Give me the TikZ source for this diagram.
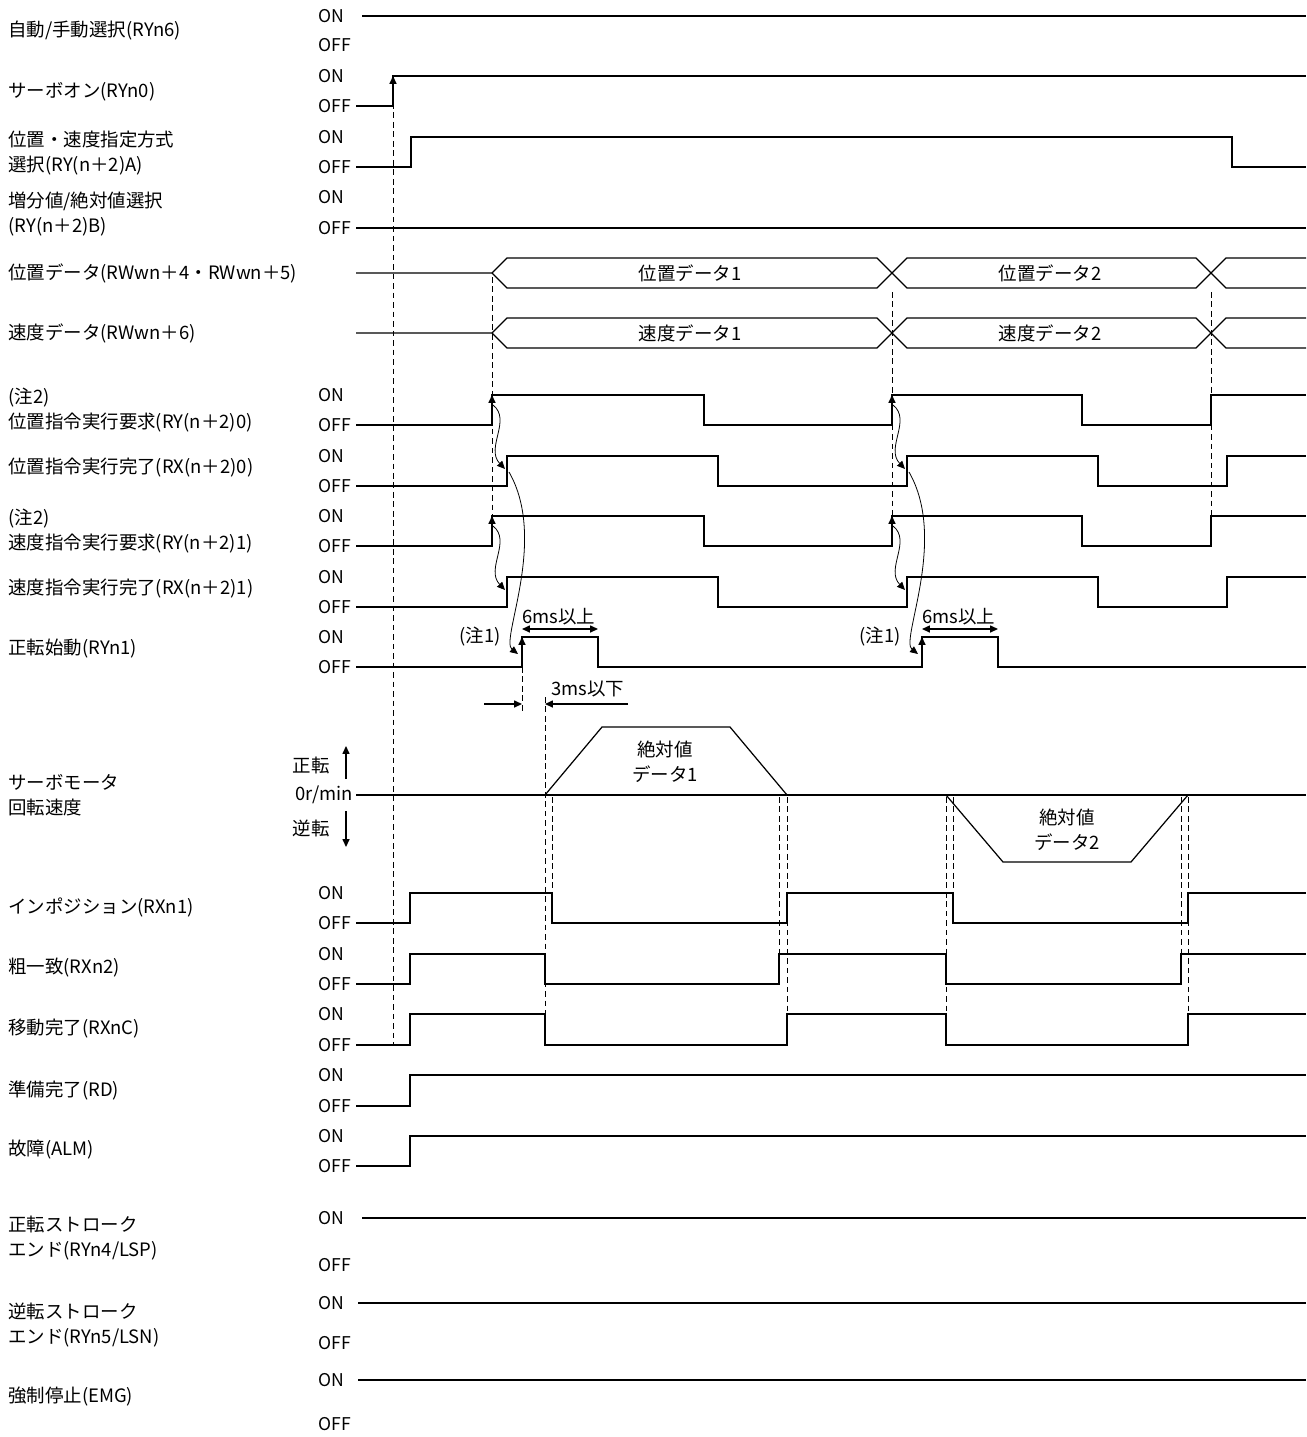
\documentclass[tikz,border=0pt]{standalone}
\usepackage{fontspec}
\setmainfont{Noto Sans CJK JP}
\usepackage{tikz}
\usetikzlibrary{arrows.meta}

\begin{document}
\begin{tikzpicture}[x=0.02cm, y=-0.02cm,
  sig/.style={line width=0.8pt},
  fine/.style={line width=0.7pt},
  curve/.style={line width=0.45pt},
  guide/.style={line width=0.5pt, dash pattern=on 3.2pt off 2.2pt},
  txt/.style={inner sep=0pt, font=\fontsize{10.5}{14}\selectfont},
  lbl/.style={txt, anchor=west, align=left},
  lvl/.style={inner sep=0pt, anchor=west, font=\fontsize{10}{12}\selectfont},
  >={Triangle[length=4.5pt,width=4pt]}]
\useasboundingbox (0,0) rectangle (1306,1437);

% signal names
\node[lbl] (sel) at (8,31) {自動/手動選択(RYn6)};
\node[lbl] (son) at (8,92) {サーボオン(RYn0)};
\node[lbl] (mode) at (8,153) {位置・速度指定方式\\選択(RY(n＋2)A)};
\node[lbl] (incabs) at (8,214) {増分値/絶対値選択\\(RY(n＋2)B)};
\node[lbl] (posdat) at (8,273) {位置データ(RWwn＋4・RWwn＋5)};
\node[lbl] (spddat) at (8,333) {速度データ(RWwn＋6)};
\node[lbl] (posreq) at (8,410) {(注2)\\位置指令実行要求(RY(n＋2)0)};
\node[lbl] (posfin) at (8,468) {位置指令実行完了(RX(n＋2)0)};
\node[lbl] (spdreq) at (8,531) {(注2)\\速度指令実行要求(RY(n＋2)1)};
\node[lbl] (spdfin) at (8,589) {速度指令実行完了(RX(n＋2)1)};
\node[lbl] (st1) at (8,649) {正転始動(RYn1)};
\node[lbl] (motor) at (8,795) {サーボモータ\\回転速度};
\node[lbl] (inp) at (8,907) {インポジション(RXn1)};
\node[lbl] (cpo) at (8,968) {粗一致(RXn2)};
\node[lbl] (mend) at (8,1029) {移動完了(RXnC)};
\node[lbl] (rd) at (8,1090) {準備完了(RD)};
\node[lbl] (alm) at (8,1150) {故障(ALM)};
\node[lbl] (lsp) at (8,1238) {正転ストローク\\エンド(RYn4/LSP)};
\node[lbl] (lsn) at (8,1325) {逆転ストローク\\エンド(RYn5/LSN)};
\node[lbl] (emg) at (8,1397) {強制停止(EMG)};

% ON / OFF levels
\foreach \on/\off [count=\i] in {16/45, 76/106, 137/167, 197/228, 395/425, 456/486,
    516/546, 577/607, 637/667, 893/923, 954/984, 1014/1045, 1075/1106, 1136/1166,
    1218/1265, 1303/1343, 1380/1424} {
  \node[lvl] (on\i) at (318,\on) {ON};
  \node[lvl] (off\i) at (318,\off) {OFF};
}

% guide lines
\foreach \x/\ya/\yb in {393/84/1045, 492/277/516, 892/292/516, 1211/292/516,
    522/667/712, 545/697/1014, 552/797/893, 779/797/954, 787/797/1014,
    946/797/1014, 953/797/893, 1181/797/954, 1188/797/1014}
  \draw[guide] (\x,\ya) -- (\x,\yb);

% static inputs
\draw[sig] (362,16) -- (1306,16);
\draw[sig] (356,106) -- (393,106) -- (393,76) -- (1306,76);
\draw[sig] (356,167) -- (411,167) -- (411,137) -- (1232,137) -- (1232,167) -- (1306,167);
\draw[sig] (356,228) -- (1306,228);

% data
\foreach \yc/\nm/\tg in {273/位置/pos, 333/速度/spd} {
  \draw[fine] (356,\yc) -- (492,\yc) -- (507,\yc-15) -- (877,\yc-15) -- (907,\yc+15)
    -- (1196,\yc+15) -- (1226,\yc-15) -- (1306,\yc-15);
  \draw[fine] (492,\yc) -- (507,\yc+15) -- (877,\yc+15) -- (907,\yc-15)
    -- (1196,\yc-15) -- (1226,\yc+15) -- (1306,\yc+15);
  \node[txt] (\tg1) at (690,\yc) {\nm データ1};
  \node[txt] (\tg2) at (1050,\yc) {\nm データ2};
}

% command handshake
\foreach \yon/\yoff in {395/425, 516/546}
  \draw[sig] (356,\yoff) -- (492,\yoff) -- (492,\yon) -- (704,\yon) -- (704,\yoff)
    -- (892,\yoff) -- (892,\yon) -- (1082,\yon) -- (1082,\yoff) -- (1211,\yoff)
    -- (1211,\yon) -- (1306,\yon);
\foreach \yon/\yoff in {456/486, 577/607}
  \draw[sig] (356,\yoff) -- (507,\yoff) -- (507,\yon) -- (718,\yon) -- (718,\yoff)
    -- (907,\yoff) -- (907,\yon) -- (1098,\yon) -- (1098,\yoff) -- (1227,\yoff)
    -- (1227,\yon) -- (1306,\yon);
\draw[sig] (356,667) -- (522,667) -- (522,637) -- (598,637) -- (598,667) -- (922,667)
  -- (922,637) -- (998,637) -- (998,667) -- (1306,667);

\foreach \x/\y in {393/76, 492/395, 492/516, 522/637, 892/395, 892/516, 922/637}
  \draw[sig, ->] (\x,\y+12) -- (\x,\y);

\foreach \dx in {0,400} {
  \draw[curve, ->] (493+\dx,405) .. controls (512+\dx,420) and (485+\dx,448) .. (505+\dx,469);
  \draw[curve, ->] (493+\dx,526) .. controls (512+\dx,541) and (485+\dx,569) .. (505+\dx,590);
  \draw[curve, ->] (509+\dx,472) .. controls (548+\dx,540) and (500+\dx,640) .. (518+\dx,654);
  \draw[fine, <->] (522+\dx,629) -- (598+\dx,629);
  \node[txt] (min6\dx) at (559+\dx,617) {6ms以上};
  \node[txt] (note1\dx) at (480+\dx,637) {(注1)};
}

\draw[fine, ->] (484,704) -- (522,704);
\draw[fine, ->] (628,704) -- (545,704);
\node[txt] (max3) at (588,689) {3ms以下};

% motor speed
\draw[line width=1.2pt] (356,795) -- (1306,795);
\node[txt, anchor=east] (zero) at (353,795) {0r/min};
\node[txt, anchor=east] (fwd) at (330,765) {正転};
\node[txt, anchor=east] (rev) at (330,828) {逆転};
\draw[fine, ->] (346,779) -- (346,746);
\draw[fine, ->] (346,811) -- (346,847);
\draw[fine] (545,795) -- (602,727) -- (730,727) -- (787,795);
\draw[fine] (946,795) -- (1003,862) -- (1131,862) -- (1188,795);
\node[txt, align=center] (abs1) at (665,762) {絶対値\\データ1};
\node[txt, align=center] (abs2) at (1067,830) {絶対値\\データ2};

% outputs
\draw[sig] (356,923) -- (410,923) -- (410,893) -- (552,893) -- (552,923) -- (787,923)
  -- (787,893) -- (953,893) -- (953,923) -- (1188,923) -- (1188,893) -- (1306,893);
\draw[sig] (356,984) -- (410,984) -- (410,954) -- (545,954) -- (545,984) -- (779,984)
  -- (779,954) -- (946,954) -- (946,984) -- (1181,984) -- (1181,954) -- (1306,954);
\draw[sig] (356,1045) -- (410,1045) -- (410,1014) -- (545,1014) -- (545,1045) -- (787,1045)
  -- (787,1014) -- (946,1014) -- (946,1045) -- (1188,1045) -- (1188,1014) -- (1306,1014);
\draw[sig] (356,1106) -- (410,1106) -- (410,1075) -- (1306,1075);
\draw[sig] (356,1166) -- (410,1166) -- (410,1136) -- (1306,1136);

% stroke ends, EMG
\draw[sig] (362,1218) -- (1306,1218);
\draw[sig] (358,1303) -- (1306,1303);
\draw[sig] (358,1380) -- (1306,1380);
\end{tikzpicture}
\end{document}
